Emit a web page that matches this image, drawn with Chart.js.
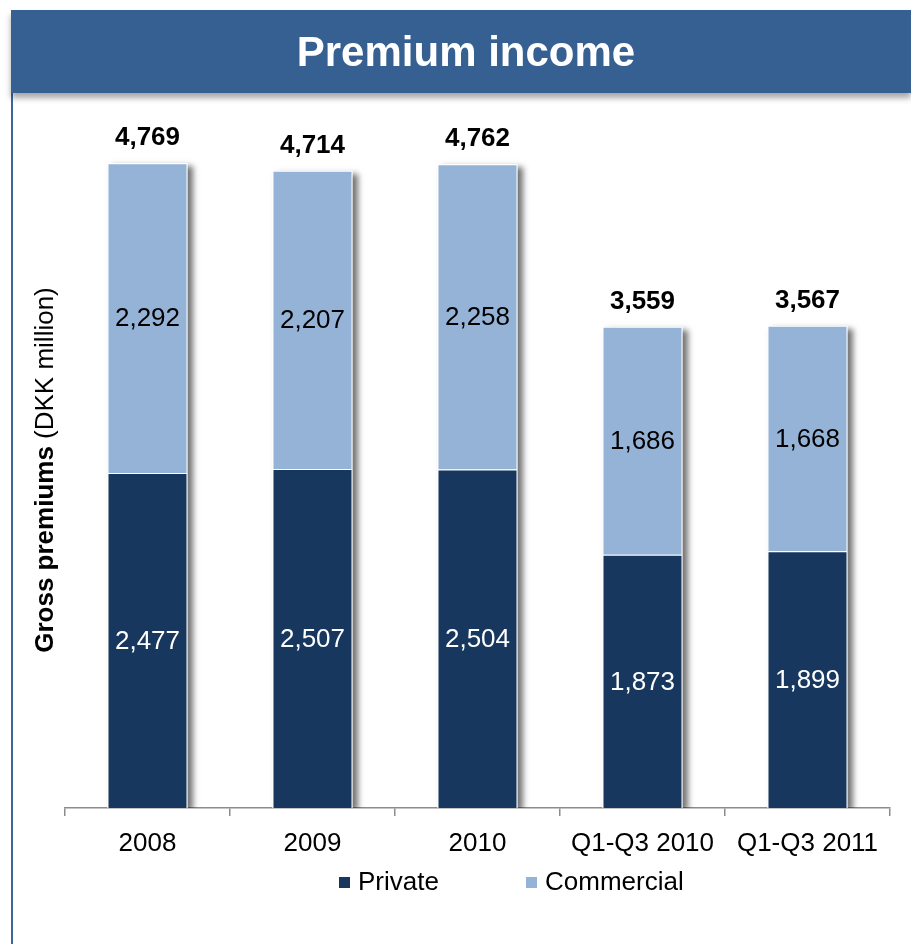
<!DOCTYPE html>
<html>
<head>
<meta charset="utf-8">
<script src="https://cdn.jsdelivr.net/npm/chart.js@4.4.1/dist/chart.umd.min.js"></script>
<style>
    body { margin: 0; background: #fff; }
    #page { position: relative; width: 911px; height: 944px; overflow: hidden; background: #fff; }
    #header {
        position: absolute; left: 11px; top: 10px; width: 900px; height: 83px;
        background: #366092; color: #fff; box-sizing: border-box; padding-left: 10px;
        font: bold 42px "Liberation Sans", Arial, sans-serif; line-height: 84px; text-align: center;
        box-shadow: 0 5px 6px rgba(0, 0, 0, 0.35); z-index: 2;
    }
    #frame { position: absolute; left: 11px; top: 93px; width: 2px; height: 851px; background: #3a67a0; }
    #premiumChart { position: absolute; left: 13px; top: 93px; }
</style>
</head>
<body>
<div id="page">
    <div id="header">Premium income</div>
    <div id="frame"></div>
    <canvas id="premiumChart" width="898" height="851"></canvas>
</div>
<script>
var periods = ['2008', '2009', '2010', 'Q1-Q3 2010', 'Q1-Q3 2011'];
var privateValues = [2477, 2507, 2504, 1873, 1899];
var commercialValues = [2292, 2207, 2258, 1686, 1668];

var FONT = '"Liberation Sans", Arial, sans-serif';

function fmt(v) {
    return v.toLocaleString('en-US');
}

// soft grey drop shadow behind each stacked column
var columnShadow = {
    id: 'columnShadow',
    beforeDatasetsDraw: function (chart) {
        var ctx = chart.ctx;
        var lower = chart.getDatasetMeta(0).data;
        var upper = chart.getDatasetMeta(1).data;
        var area = chart.chartArea;
        ctx.save();
        ctx.beginPath();
        ctx.rect(area.left, area.top - 40, area.right - area.left + 20, area.bottom - area.top + 40);
        ctx.clip();
        ctx.shadowColor = 'rgba(0, 0, 0, 0.55)';
        ctx.shadowBlur = 6;
        ctx.shadowOffsetX = 5;
        ctx.shadowOffsetY = 3;
        ctx.fillStyle = '#ffffff';
        for (var i = 0; i < lower.length; i++) {
            var top = upper[i].y;
            var base = lower[i].base;
            var w = lower[i].width;
            ctx.fillRect(lower[i].x - w / 2, top, w, base - top);
        }
        ctx.restore();
    }
};

// values inside the segments and the column totals above
var barLabels = {
    id: 'barLabels',
    afterDatasetsDraw: function (chart) {
        var ctx = chart.ctx;
        var lower = chart.getDatasetMeta(0).data;
        var upper = chart.getDatasetMeta(1).data;
        ctx.save();
        ctx.textAlign = 'center';
        ctx.textBaseline = 'middle';
        for (var i = 0; i < lower.length; i++) {
            ctx.font = '26px ' + FONT;
            ctx.fillStyle = '#ffffff';
            ctx.fillText(fmt(privateValues[i]), lower[i].x, (lower[i].y + lower[i].base) / 2 + 1);
            ctx.fillStyle = '#000000';
            ctx.fillText(fmt(commercialValues[i]), upper[i].x, (upper[i].y + upper[i].base) / 2 + 1);
            ctx.font = 'bold 26px ' + FONT;
            ctx.fillText(fmt(privateValues[i] + commercialValues[i]), upper[i].x, upper[i].y - 25);
        }
        ctx.restore();
    }
};

// rotated axis title, bold first part
var axisTitle = {
    id: 'axisTitle',
    afterDraw: function (chart) {
        var ctx = chart.ctx;
        var area = chart.chartArea;
        var boldPart = 'Gross premiums';
        var plainPart = ' (DKK million)';
        ctx.save();
        ctx.translate(33, (area.top + area.bottom) / 2);
        ctx.rotate(-Math.PI / 2);
        ctx.textBaseline = 'middle';
        ctx.fillStyle = '#000000';
        ctx.font = 'bold 26px ' + FONT;
        var wb = ctx.measureText(boldPart).width;
        ctx.font = '26px ' + FONT;
        var wp = ctx.measureText(plainPart).width;
        var x0 = -(wb + wp) / 2;
        ctx.textAlign = 'left';
        ctx.font = 'bold 26px ' + FONT;
        ctx.fillText(boldPart, x0, 0);
        ctx.font = '26px ' + FONT;
        ctx.fillText(plainPart, x0 + wb, 0);
        ctx.restore();
    }
};

// legend row under the axis
var legendRow = {
    id: 'legendRow',
    afterDraw: function (chart) {
        var ctx = chart.ctx;
        var sets = chart.data.datasets;
        var y = 790;
        var startX = [326, 513];
        ctx.save();
        ctx.font = '26px ' + FONT;
        ctx.textBaseline = 'middle';
        ctx.textAlign = 'left';
        for (var i = 0; i < sets.length; i++) {
            ctx.fillStyle = sets[i].backgroundColor;
            ctx.fillRect(startX[i], y - 6, 11, 11);
            ctx.fillStyle = '#000000';
            ctx.fillText(sets[i].label, startX[i] + 19, y);
        }
        ctx.restore();
    }
};

new Chart(document.getElementById('premiumChart'), {
    type: 'bar',
    data: {
        labels: periods,
        datasets: [{
            label: 'Private',
            data: privateValues,
            backgroundColor: '#17375e',
            borderColor: '#ffffff',
            borderWidth: 1
        }, {
            label: 'Commercial',
            data: commercialValues,
            backgroundColor: '#95b3d7',
            borderColor: '#ffffff',
            borderWidth: 1
        }]
    },
    options: {
        responsive: false,
        animation: false,
        devicePixelRatio: 1,
        categoryPercentage: 1,
        barPercentage: 0.485,
        layout: {
            padding: { left: 52, right: 21, top: 39, bottom: 86 }
        },
        plugins: {
            legend: { display: false },
            tooltip: { enabled: false }
        },
        scales: {
            x: {
                stacked: true,
                afterFit: function (scale) { scale.height = 50; },
                grid: {
                    offset: true,
                    drawOnChartArea: false,
                    drawTicks: true,
                    tickLength: 8,
                    color: '#8c8c8c',
                    lineWidth: 1.5
                },
                border: { display: true, color: '#8c8c8c', width: 1.5 },
                ticks: {
                    color: '#000000',
                    padding: 12,
                    maxRotation: 0,
                    font: { family: FONT, size: 26 }
                }
            },
            y: {
                stacked: true,
                display: false,
                min: 0,
                max: 5000
            }
        }
    },
    plugins: [columnShadow, barLabels, axisTitle, legendRow]
});
</script>
</body>
</html>
